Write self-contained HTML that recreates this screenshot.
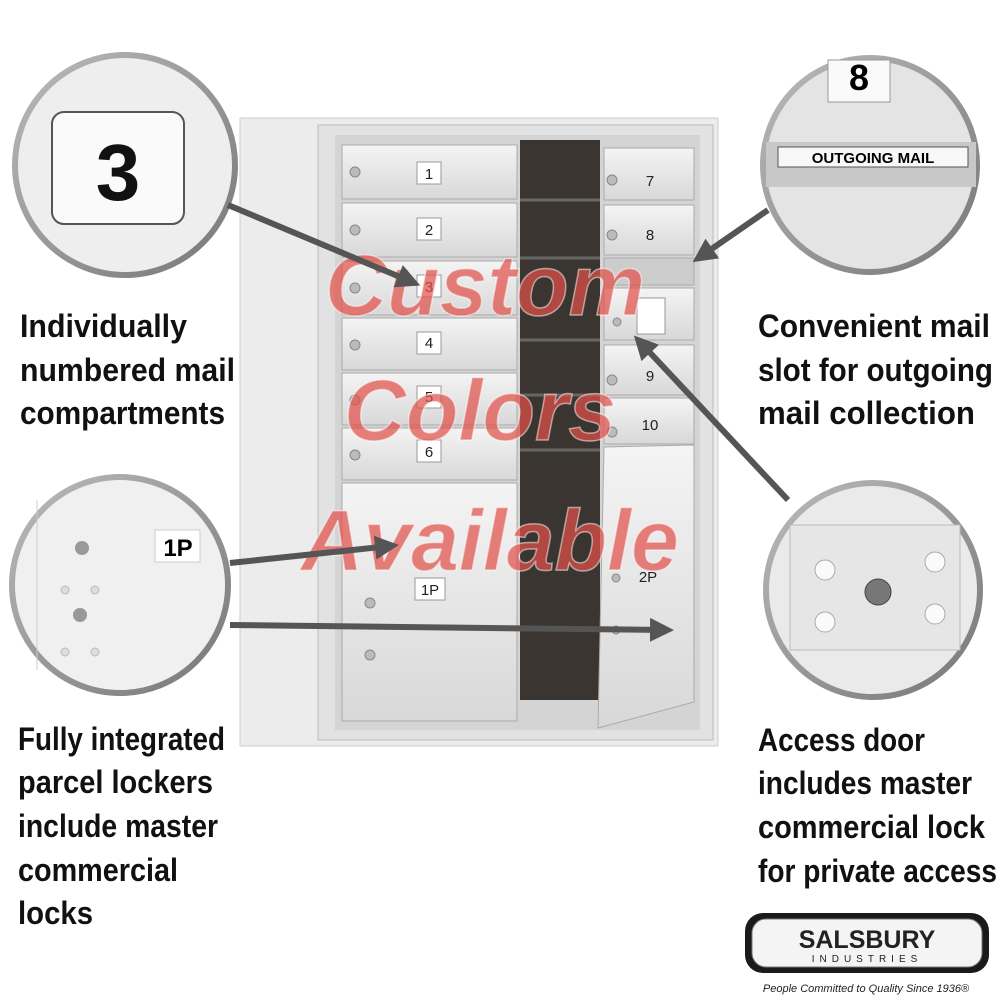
<!DOCTYPE html>
<html><head><meta charset="utf-8"><style>
html,body{margin:0;padding:0;background:#fff;}
svg{display:block}
.lbl{font-family:"Liberation Sans Narrow","Liberation Sans",sans-serif;font-weight:bold;font-size:32px;fill:#111;}
.num{font-family:"Liberation Sans",sans-serif;font-size:15px;fill:#222;text-anchor:middle}
</style></head><body>
<svg width="1000" height="1000" viewBox="0 0 1000 1000">
<defs>
<linearGradient id="ring" x1="0" y1="0" x2="1" y2="1"><stop offset="0" stop-color="#bbb"/><stop offset="1" stop-color="#777"/></linearGradient>
<linearGradient id="door" x1="0" y1="0" x2="0" y2="1"><stop offset="0" stop-color="#f4f4f4"/><stop offset="1" stop-color="#d8d8d8"/></linearGradient>
<marker id="ah" markerWidth="4" markerHeight="4" refX="2.5" refY="2" orient="auto"><path d="M0,0 L4,2 L0,4 z" fill="#555"/></marker>
</defs>
<rect x="240" y="118" width="478" height="628" fill="#ececec" stroke="#ccc"/>
<rect x="318" y="125" width="395" height="615" fill="#e2e2e2" stroke="#bbb"/>
<rect x="335" y="135" width="365" height="595" fill="#d4d4d4"/>
<rect x="520" y="140" width="80" height="560" fill="#3a3530"/>
<g stroke="#666" stroke-width="3"><line x1="520" y1="200" x2="600" y2="200"/><line x1="520" y1="258" x2="600" y2="258"/><line x1="520" y1="340" x2="600" y2="340"/><line x1="520" y1="395" x2="600" y2="395"/><line x1="520" y1="450" x2="600" y2="450"/></g>
<g fill="url(#door)" stroke="#aaa">
<rect x="342" y="145" width="175" height="54"/><rect x="342" y="203" width="175" height="54"/>
<rect x="342" y="261" width="175" height="54"/><rect x="342" y="318" width="175" height="52"/>
<rect x="342" y="373" width="175" height="52"/><rect x="342" y="428" width="175" height="52"/>
<rect x="342" y="483" width="175" height="238"/>
<rect x="604" y="148" width="90" height="52"/><rect x="604" y="205" width="90" height="50"/>
<rect x="604" y="258" width="90" height="27" fill="#ccc"/>
<rect x="604" y="288" width="90" height="52"/><rect x="604" y="345" width="90" height="50"/>
<rect x="604" y="398" width="90" height="46"/>
<path d="M604 447 L694 445 L694 702 L598 728 Z"/>
</g>
<g fill="#fff" stroke="#999"><rect x="417" y="162" width="24" height="22"/><rect x="417" y="218" width="24" height="22"/><rect x="417" y="275" width="24" height="22"/><rect x="417" y="332" width="24" height="22"/><rect x="417" y="386" width="24" height="22"/><rect x="417" y="440" width="24" height="22"/><rect x="415" y="578" width="30" height="22"/><rect x="637" y="298" width="28" height="36"/></g>
<g class="num"><text x="429" y="179">1</text><text x="429" y="235">2</text><text x="429" y="292">3</text><text x="429" y="348">4</text><text x="429" y="402">5</text><text x="429" y="457">6</text><text x="430" y="595">1P</text><text x="650" y="186">7</text><text x="650" y="240">8</text><text x="650" y="381">9</text><text x="650" y="430">10</text><text x="648" y="582">2P</text></g>
<g fill="#bbb" stroke="#888"><circle cx="355" cy="172" r="5"/><circle cx="355" cy="230" r="5"/><circle cx="355" cy="288" r="5"/><circle cx="355" cy="345" r="5"/><circle cx="355" cy="400" r="5"/><circle cx="355" cy="455" r="5"/><circle cx="370" cy="603" r="5"/><circle cx="370" cy="655" r="5"/><circle cx="612" cy="180" r="5"/><circle cx="612" cy="235" r="5"/><circle cx="617" cy="322" r="4"/><circle cx="612" cy="380" r="5"/><circle cx="612" cy="432" r="5"/><circle cx="616" cy="578" r="4"/><circle cx="616" cy="630" r="4"/></g>
<g font-family="Liberation Sans,sans-serif" font-weight="bold" font-style="italic" font-size="86" fill="#e0504a" fill-opacity="0.72" stroke="#fff" stroke-opacity="0.5" stroke-width="1.5" text-anchor="middle">
<text x="485" y="315">Custom</text><text x="480" y="440">Colors</text><text x="490" y="570">Available</text></g>
<circle cx="125" cy="165" r="110" fill="#eee" stroke="url(#ring)" stroke-width="6"/>
<rect x="52" y="112" width="132" height="112" rx="12" fill="#fafafa" stroke="#555" stroke-width="2"/>
<text x="118" y="200" font-family="Liberation Sans,sans-serif" font-weight="bold" font-size="80" text-anchor="middle" fill="#111">3</text>
<circle cx="120" cy="585" r="108" fill="#f0f0f0" stroke="url(#ring)" stroke-width="6"/>
<line x1="37" y1="500" x2="37" y2="670" stroke="#ccc"/>
<rect x="155" y="530" width="45" height="32" fill="#fff" stroke="#ccc"/>
<text x="178" y="556" font-family="Liberation Sans,sans-serif" font-weight="bold" font-size="24" text-anchor="middle">1P</text>
<g fill="#999"><circle cx="82" cy="548" r="7"/><circle cx="80" cy="615" r="7"/></g>
<g fill="#ddd" stroke="#bbb"><circle cx="65" cy="590" r="4"/><circle cx="95" cy="590" r="4"/><circle cx="65" cy="652" r="4"/><circle cx="95" cy="652" r="4"/></g>
<circle cx="870" cy="165" r="107" fill="#e4e4e4" stroke="url(#ring)" stroke-width="6"/>
<rect x="828" y="60" width="62" height="42" fill="#fafafa" stroke="#999"/>
<text x="859" y="90" font-family="Liberation Sans,sans-serif" font-weight="bold" font-size="36" text-anchor="middle">8</text>
<rect x="766" y="142" width="210" height="45" fill="#c8c8c8"/>
<rect x="778" y="147" width="190" height="20" fill="#f8f8f8" stroke="#555"/>
<text x="873" y="163" font-family="Liberation Sans,sans-serif" font-weight="bold" font-size="15" text-anchor="middle">OUTGOING MAIL</text>
<circle cx="873" cy="590" r="107" fill="#eaeaea" stroke="url(#ring)" stroke-width="6"/>
<rect x="790" y="525" width="170" height="125" fill="#e6e6e6" stroke="#bbb"/>
<g fill="#fafafa" stroke="#aaa"><circle cx="825" cy="570" r="10"/><circle cx="935" cy="562" r="10"/><circle cx="825" cy="622" r="10"/><circle cx="935" cy="614" r="10"/></g>
<circle cx="878" cy="592" r="13" fill="#777" stroke="#444"/>
<g stroke="#555" stroke-width="6" marker-end="url(#ah)" fill="none">
<line x1="228" y1="205" x2="412" y2="282"/>
<line x1="230" y1="563" x2="390" y2="546"/>
<line x1="230" y1="625" x2="665" y2="630"/>
<line x1="768" y1="210" x2="700" y2="257"/>
<line x1="788" y1="500" x2="640" y2="342"/>
</g>
<g class="lbl" lengthAdjust="spacingAndGlyphs">
<text x="20" y="337" textLength="167" lengthAdjust="spacingAndGlyphs">Individually</text>
<text x="20" y="381" textLength="215" lengthAdjust="spacingAndGlyphs">numbered mail</text>
<text x="20" y="424" textLength="205" lengthAdjust="spacingAndGlyphs">compartments</text>
<text x="18" y="750" textLength="207" lengthAdjust="spacingAndGlyphs">Fully integrated</text>
<text x="18" y="793" textLength="195" lengthAdjust="spacingAndGlyphs">parcel lockers</text>
<text x="18" y="837" textLength="200" lengthAdjust="spacingAndGlyphs">include master</text>
<text x="18" y="881" textLength="160" lengthAdjust="spacingAndGlyphs">commercial</text>
<text x="18" y="924" textLength="75" lengthAdjust="spacingAndGlyphs">locks</text>
<text x="758" y="337" textLength="232" lengthAdjust="spacingAndGlyphs">Convenient mail</text>
<text x="758" y="381" textLength="235" lengthAdjust="spacingAndGlyphs">slot for outgoing</text>
<text x="758" y="424" textLength="217" lengthAdjust="spacingAndGlyphs">mail collection</text>
<text x="758" y="751" textLength="167" lengthAdjust="spacingAndGlyphs">Access door</text>
<text x="758" y="794" textLength="214" lengthAdjust="spacingAndGlyphs">includes master</text>
<text x="758" y="838" textLength="227" lengthAdjust="spacingAndGlyphs">commercial lock</text>
<text x="758" y="882" textLength="239" lengthAdjust="spacingAndGlyphs">for private access</text>
</g>
<rect x="745" y="913" width="244" height="60" rx="18" fill="#1a1a1a"/>
<rect x="752" y="919" width="230" height="48" rx="14" fill="#f4f4f4" stroke="#777"/>
<text x="867" y="948" font-family="Liberation Sans,sans-serif" font-weight="bold" font-size="25" text-anchor="middle" fill="#222">SALSBURY</text>
<text x="867" y="962" font-family="Liberation Sans,sans-serif" font-size="10" letter-spacing="5" text-anchor="middle" fill="#222">INDUSTRIES</text>
<text x="866" y="992" font-family="Liberation Sans,sans-serif" font-style="italic" font-size="11" text-anchor="middle" fill="#222">People Committed to Quality Since 1936®</text>
</svg>
</body></html>
